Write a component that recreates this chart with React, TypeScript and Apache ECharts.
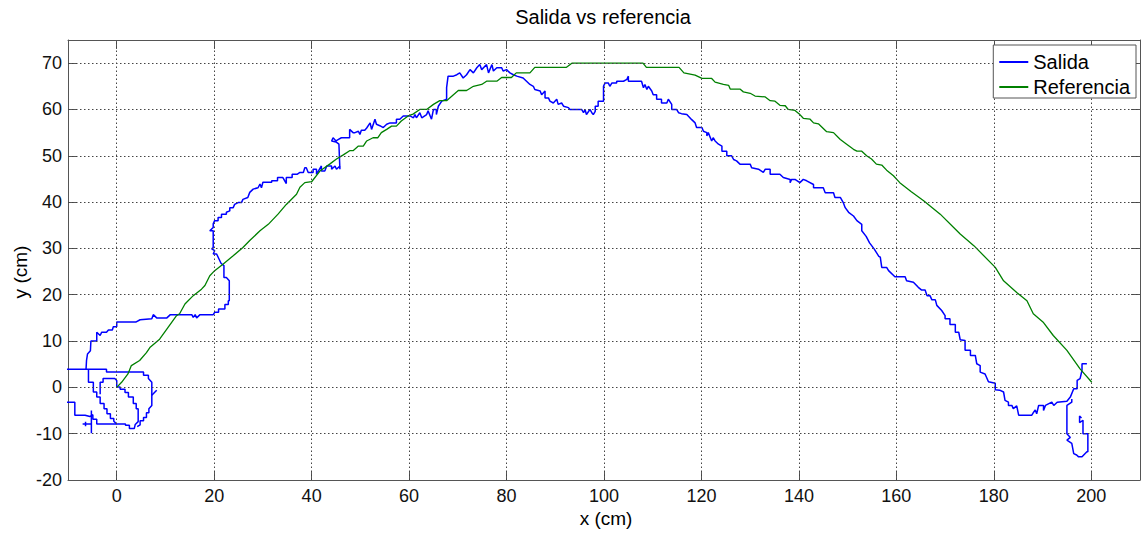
import React, { useEffect, useRef } from 'react';
import * as echarts from 'echarts';

const xTicks = [0, 20, 40, 60, 80, 100, 120, 140, 160, 180, 200];
const yTicks = [-20, -10, 0, 10, 20, 30, 40, 50, 60, 70];
const xGrid = [0, 20, 40, 60, 80, 100, 120, 140, 160, 180, 200];
const yGrid = [-10, 0, 10, 20, 30, 40, 50, 60, 70];

// Salida: trajectory pieces (x, y) in cm
const salidaInicioA = [
  [0, 0.1], [0.7, 0.1], [0.7, -0.4], [1.7, -0.4], [1.7, -1.1], [2.4, -1.1], [2.4, -2.1], [3.4, -2.1],
  [3.4, -3.5], [4.0, -3.5], [4.0, -4.6], [4.4, -4.6], [4.4, -7.4], [3.8, -8.0], [3.6, -8.9], [2.6, -8.9],
  [2.6, -8.2], [1.8, -8.2], [1.8, -7.9], [-4.1, -7.9], [-4.1, -6.9], [-4.9, -6.9], [-4.9, -5.9],
  [-5.5, -6.3], [-6.5, -6.0], [-8.6, -6.0], [-8.6, -3.2], [-12, -3.2],
];
const salidaInicioB = [
  [-12, 3.9], [-2.1, 3.9], [-2.1, 3.3], [5.5, 3.3], [5.5, 2.6], [6.5, 2.6], [6.5, 1.9], [7.2, 1.1],
  [7.2, -3.9], [6.6, -4.6], [6.6, -5.5], [6.1, -5.5], [6.1, -6.5], [5.5, -6.5], [5.5, -7.2], [4.8, -7.2],
  [4.8, -8.1], [4.2, -8.5],
];
const salidaCola = [[7.2, -1.7], [8.2, -0.6]];
const salidaInicioC = [
  [-5.8, 3.9], [-5.8, 1.1], [-4.8, 1.1], [-4.8, -1.0], [-4.1, -1.0], [-4.1, -2.1], [-3.4, -2.1],
  [-3.4, -3.5], [-2.6, -3.5], [-2.6, -4.6], [-2.0, -4.6], [-2.0, -5.7], [-1.3, -5.7], [-1.3, -6.7],
  [-0.6, -6.7], [-0.6, -7.3], [0, -7.9],
];
const salidaInicioD = [[-3.4, -1.5], [-3.4, 1.1], [-2.8, 1.1], [-2.8, 1.9], [-0.4, 1.9], [0, 1.5], [0, 0.1]];
const salidaInicioE = [[-7.0, -7.9], [-5.2, -7.9]];
const salidaInicioF = [[-5.2, -5.0], [-5.2, -9.9]];
const salidaInicioG = [[-6.4, -7.4], [-6.4, -8.4]];

const salidaPrincipal = [
  [-6.3, 3.9], [-6.2, 5.8], [-6.0, 7.2], [-5.4, 7.9], [-5.3, 10.0], [-4.1, 10.0], [-4.1, 11.9], [-3.4, 11.2],
  [-3.1, 11.9], [-2.1, 11.9], [-1.7, 12.4], [-0.9, 12.4], [-0.7, 13.1], [0, 13.1], [0, 14.1], [3.9, 14.1],
  [4.8, 14.6], [7.2, 14.8], [7.5, 15.7], [8.2, 15.0], [10.3, 15.0], [11.0, 15.7], [15.4, 15.7], [15.7, 15.1],
  [16.1, 15.7], [16.4, 15.0], [17.1, 15.7], [19.8, 15.7], [20.1, 16.2], [20.9, 16.2], [20.9, 16.9],
  [22.2, 16.9], [22.2, 17.9], [22.9, 17.9], [22.9, 18.7], [23.1, 18.7], [23.1, 23.0], [22.5, 23.7],
  [22.0, 23.7], [22.0, 26.3], [21.4, 26.8], [20.5, 28.8], [19.8, 28.8], [20.1, 29.5], [19.5, 29.9],
  [19.8, 30.2], [19.8, 33.8], [19.1, 33.8], [19.8, 34.5], [19.8, 35.3], [20.1, 36.0], [20.8, 36.0],
  [20.8, 36.7], [21.5, 36.7], [21.5, 37.4], [22.5, 37.4], [22.5, 37.8], [23.2, 38.1], [23.2, 38.8],
  [23.9, 38.8], [24.2, 39.5], [24.9, 39.9], [25.6, 39.9], [25.9, 40.6], [26.9, 41.0], [27.3, 42.1],
  [28.0, 42.8], [29.0, 43.1], [29.4, 43.9], [29.7, 43.1], [30.0, 44.3], [31.8, 44.3], [31.8, 44.6],
  [33.0, 44.6], [33.0, 45.3], [34.1, 45.3], [34.8, 44.0], [34.8, 45.3], [36.0, 45.3], [36.0, 46.0],
  [37.0, 46.0], [37.6, 46.4], [38.3, 46.4], [38.6, 47.4], [38.9, 47.4], [39.3, 46.4], [40.3, 46.4],
  [40.3, 47.1], [41.0, 47.1], [41.0, 46.0], [42.0, 47.8], [42.0, 46.7], [42.7, 46.7], [43.1, 47.8],
  [44.1, 47.8], [44.1, 47.1], [44.8, 47.8], [45.1, 47.1], [45.8, 47.8], [45.8, 47.1], [45.6, 52.5],
  [45.0, 53.0], [44.1, 53.2], [44.4, 53.9], [45.0, 53.2], [45.6, 53.6], [46.1, 53.9], [47.8, 53.9],
  [47.8, 55.7], [48.5, 55.0], [48.9, 55.0], [49.6, 55.3], [49.9, 54.6], [50.2, 55.5], [50.9, 55.5],
  [51.3, 56.0], [52.0, 57.1], [52.3, 55.7], [53.0, 57.9], [53.3, 56.8], [54.0, 56.5], [54.7, 56.1],
  [55.4, 56.8], [56.1, 57.1], [57.4, 57.1], [57.4, 57.9], [58.1, 57.9], [58.8, 58.6], [60.2, 58.6],
  [60.9, 58.2], [61.2, 58.9], [61.5, 58.2], [62.2, 59.3], [62.6, 58.2], [63.6, 58.9], [63.9, 59.7],
  [64.6, 57.9], [65.0, 60.0], [65.6, 60.0], [65.6, 58.9], [66.0, 60.7], [66.7, 61.8], [67.7, 62.2],
  [67.7, 64.7], [68.0, 67.2], [69.1, 67.2], [69.8, 67.5], [70.4, 67.9], [71.1, 66.8], [71.8, 67.5],
  [72.5, 68.6], [73.2, 67.9], [73.9, 69.0], [74.5, 69.7], [74.9, 68.6], [75.9, 69.7], [76.3, 67.9],
  [77.0, 69.7], [77.3, 68.3], [78.0, 69.0], [79.0, 69.0], [79.3, 68.3], [80.0, 68.6], [80.7, 67.9],
  [81.4, 67.5], [82.1, 67.2], [83.4, 66.8], [84.1, 66.1], [84.8, 65.4], [85.5, 65.0], [85.8, 64.3],
  [86.9, 64.0], [87.2, 63.2], [87.9, 64.0], [87.9, 62.5], [88.6, 62.5], [88.9, 61.8], [89.6, 61.4],
  [90.3, 62.2], [90.6, 61.1], [91.3, 61.4], [91.7, 60.7], [92.7, 60.4], [93.0, 60.0], [95.4, 60.0],
  [95.8, 59.3], [96.1, 60.0], [96.4, 58.9], [97.1, 60.0], [97.5, 59.3], [97.8, 58.9], [98.2, 59.6],
  [98.2, 60.7], [98.8, 60.7], [98.8, 61.8], [99.9, 61.8], [99.9, 65.0], [100.2, 65.7], [100.9, 65.7],
  [101.2, 65.0], [101.6, 65.7], [102.6, 65.7], [102.6, 66.1], [104.0, 66.1], [104.7, 66.5], [105.0, 67.2],
  [105.0, 66.1], [107.7, 66.1], [108.1, 64.7], [108.4, 65.4], [108.8, 64.3], [109.1, 65.0], [109.8, 64.0],
  [110.1, 63.2], [110.8, 63.2], [110.8, 62.2], [111.8, 62.2], [111.8, 61.4], [112.9, 61.4], [113.2, 62.2],
  [113.9, 61.1], [113.9, 60.0], [114.9, 60.0], [115.3, 59.3], [115.9, 59.1], [117.0, 58.9], [118.0, 57.8],
  [118.7, 57.1], [119.0, 56.1], [120.1, 56.1], [120.4, 55.3], [121.1, 55.0], [121.1, 54.3], [121.4, 55.0],
  [122.1, 53.2], [122.4, 53.9], [122.8, 53.2], [123.5, 52.5], [124.2, 52.1], [124.2, 51.0], [125.2, 51.0],
  [125.2, 50.0], [126.2, 50.0], [126.6, 49.2], [127.2, 48.9], [127.9, 48.2], [130.0, 48.2], [130.3, 47.4],
  [131.7, 47.1], [132.7, 46.4], [133.1, 47.1], [134.1, 47.1], [134.1, 46.0], [136.1, 46.0], [136.8, 45.3],
  [138.2, 44.9], [138.2, 44.2], [138.5, 44.9], [139.2, 44.9], [140.2, 44.2], [140.9, 44.9], [141.6, 44.6],
  [143.0, 43.8], [143.0, 43.1], [145.0, 43.1], [145.4, 42.0], [147.1, 42.0], [147.4, 41.0], [148.5, 41.0],
  [149.1, 39.9], [149.5, 38.8], [150.2, 37.8], [151.2, 37.0], [151.9, 36.0], [152.9, 35.2], [152.9, 33.8],
  [153.8, 32.6], [154.5, 31.2], [155.5, 29.8], [156.4, 28.3], [156.7, 28.1], [157.0, 25.9], [158.0, 25.9],
  [158.4, 25.2], [159.7, 23.9], [161.8, 23.9], [162.1, 23.0], [163.5, 22.7], [164.5, 21.6], [165.2, 21.0],
  [165.9, 21.0], [166.3, 19.8], [166.9, 19.8], [167.3, 18.9], [168.0, 18.9], [168.3, 17.7], [169.3, 16.6],
  [170.0, 15.5], [170.0, 14.8], [171.0, 14.8], [171.0, 13.6], [172.1, 13.6], [172.1, 11.9], [172.8, 11.9],
  [173.1, 10.3], [174.1, 10.1], [174.1, 8.0], [175.2, 8.0], [175.2, 6.9], [176.2, 6.9], [176.5, 5.1],
  [177.2, 4.7], [177.2, 3.3], [178.2, 2.9], [178.9, 1.2], [180.3, 0.9], [180.3, -0.5], [181.2, -0.6],
  [182.0, -1.0], [182.3, -2.8], [183.0, -3.2], [183.0, -3.9], [183.7, -3.9], [184.0, -4.6], [184.7, -4.0],
  [185.1, -6.0], [187.8, -6.0], [188.2, -5.3], [188.5, -4.9], [188.8, -5.7], [189.2, -3.9], [190.2, -3.9],
  [190.2, -5.0], [190.6, -3.9], [191.9, -3.2], [192.3, -3.9], [193.0, -3.2], [195.0, -3.0], [195.7, -2.1],
  [196.4, -0.3], [197.1, -0.3], [197.1, 1.5], [197.7, 1.9], [198.1, 3.7], [198.1, 5.1], [199.1, 5.1],
];
const salidaFinal = [
  [196.0, -2.5], [196.0, -3.2], [195.0, -3.9], [195.0, -10.0], [195.7, -10.8], [195.0, -11.4], [196.0, -12.1],
  [196.4, -14.3], [197.0, -14.6], [197.4, -15.0], [198.1, -15.0], [199.1, -13.9], [199.3, -13.9],
  [199.3, -10.0], [198.3, -10.0], [198.3, -7.1], [197.6, -7.6], [197.6, -6.2], [198.0, -6.6],
];

// Referencia
const referencia = [
  [0, 0], [1.0, 1.1], [2.3, 2.9], [3.0, 4.7], [4.7, 5.8], [6.1, 7.5], [6.8, 8.6], [8.8, 10.4], [10.5, 12.9],
  [12.2, 15.4], [12.9, 15.9], [14.0, 18.0], [15.7, 19.8], [17.4, 21.2], [18.1, 22.0], [19.1, 24.1],
  [20.1, 25.2], [21.8, 26.6], [23.9, 28.4], [25.9, 30.2], [27.3, 31.7], [29.4, 33.8], [31.1, 35.2],
  [33.1, 37.4], [34.8, 39.5], [36.9, 41.7], [37.6, 43.2], [38.6, 44.2], [40.0, 44.4], [41.7, 46.7],
  [43.7, 48.2], [45.1, 49.3], [46.5, 50.2], [47.8, 51.1], [48.5, 51.1], [49.6, 52.1], [50.6, 52.1],
  [51.3, 53.2], [52.6, 53.9], [53.6, 53.9], [54.3, 55.0], [55.4, 55.7], [56.4, 56.4], [57.4, 56.4],
  [58.4, 57.5], [59.8, 58.6], [60.8, 59.0], [62.2, 60.0], [63.6, 60.0], [65.0, 61.1], [66.3, 61.9],
  [67.7, 61.9], [69.1, 63.2], [70.1, 64.1], [71.8, 64.1], [73.2, 65.0], [74.9, 65.4], [75.9, 66.1],
  [78.0, 66.1], [79.0, 66.9], [81.0, 66.9], [82.0, 67.9], [84.8, 67.9], [85.8, 69.1], [92.3, 69.1],
  [93.4, 70.0], [108.0, 70.0], [108.7, 69.1], [115.4, 69.1], [116.4, 67.9], [118.7, 67.4], [120.1, 66.7],
  [122.1, 66.7], [122.8, 65.9], [124.5, 65.4], [125.6, 65.2], [125.9, 64.4], [127.9, 64.4], [128.6, 63.8],
  [130.0, 63.5], [131.0, 62.9], [133.1, 62.7], [134.1, 61.9], [135.1, 61.8], [136.1, 60.9], [137.2, 60.8],
  [137.8, 60.0], [139.2, 59.8], [140.2, 58.9], [140.9, 58.1], [142.3, 57.9], [143.0, 57.1], [144.0, 56.9],
  [145.7, 55.2], [147.1, 55.0], [148.5, 53.5], [149.8, 52.5], [151.2, 51.4], [151.9, 51.0], [152.9, 51.0],
  [153.9, 50.0], [154.9, 49.3], [155.9, 48.2], [157.0, 48.0], [158.0, 46.9], [159.4, 45.7], [160.7, 44.2],
  [163.0, 42.3], [165.6, 40.3], [169.0, 37.4], [173.1, 33.1], [175.9, 30.6], [180.3, 25.9], [182.0, 23.0],
  [184.7, 20.5], [186.8, 18.7], [188.1, 15.9], [190.2, 14.0], [192.2, 11.2], [195.0, 8.0], [197.7, 4.0],
  [200.1, 1.1],
];

const salidaTramos = [
  salidaInicioA, salidaInicioB, salidaCola, salidaInicioC, salidaInicioD, salidaInicioE,
  salidaInicioF, salidaInicioG, salidaPrincipal, salidaFinal,
];

export default function App() {
  const ref = useRef<HTMLDivElement>(null);
  useEffect(() => {
    if (!ref.current) return;
    const chart = echarts.init(ref.current, undefined, { renderer: 'svg' });
    const font = '"Liberation Sans", Arial, Helvetica, sans-serif';
    const axisColor = '#555';
    const textColor = '#111';
    const tickFont = 18;
    const gridLineStyle = { color: '#444', width: 1, type: [1.5, 2.5] as any };

    const mkX = (pos: 'bottom' | 'top', labels: boolean) => ({
      type: 'value', min: -10, max: 210, position: pos,
      axisLine: { show: true, onZero: false, lineStyle: { color: axisColor, width: 1 } },
      axisTick: { show: true, inside: true, length: 9, customValues: xTicks, lineStyle: { color: axisColor } },
      axisLabel: { show: labels, customValues: xTicks, margin: 7, color: textColor, fontSize: tickFont, fontFamily: font },
      splitLine: { show: false },
    });
    const mkY = (pos: 'left' | 'right', labels: boolean) => ({
      type: 'value', min: -20, max: 75, position: pos,
      axisLine: { show: true, onZero: false, lineStyle: { color: axisColor, width: 1 } },
      axisTick: { show: true, inside: true, length: 9, customValues: yTicks, lineStyle: { color: axisColor } },
      axisLabel: { show: labels, customValues: yTicks, margin: 6, color: textColor, fontSize: tickFont, fontFamily: font },
      splitLine: { show: false },
    });

    const series: any[] = [
      {
        type: 'line', name: 'grid', data: [], silent: true, z: 1,
        markLine: {
          silent: true, symbol: ['none', 'none'], animation: false,
          label: { show: false }, lineStyle: gridLineStyle, emphasis: { disabled: true },
          data: [...xGrid.map((v) => ({ xAxis: v })), ...yGrid.map((v) => ({ yAxis: v }))],
        },
      },
    ];
    salidaTramos.forEach((t) => {
      series.push({
        name: 'Salida', type: 'line', data: t, symbol: 'none', showSymbol: false, silent: true, z: 3,
        lineStyle: { color: '#0000ff', width: 1.5 }, itemStyle: { color: '#0000ff' },
      });
    });
    series.push({
      name: 'Referencia', type: 'line', data: referencia, symbol: 'none', showSymbol: false, silent: true, z: 4,
      lineStyle: { color: '#008000', width: 1.3 }, itemStyle: { color: '#008000' },
    });

    const txt = (text: string, size: number) => ({
      text, fontSize: size, fontFamily: font, fill: '#000',
      align: 'center', verticalAlign: 'middle', textAlign: 'center', textVerticalAlign: 'middle',
    });

    chart.setOption({
      animation: false,
      backgroundColor: '#fff',
      grid: { left: 68, right: 4, top: 40, bottom: 53, containLabel: false },
      xAxis: [mkX('bottom', true), mkX('top', false)],
      yAxis: [mkY('left', true), mkY('right', false)],
      legend: {
        data: ['Salida', 'Referencia'], orient: 'vertical', right: 8, top: 45,
        itemWidth: 29, itemHeight: 2, itemGap: 5, icon: 'rect',
        padding: [7, 6, 1, 6], borderColor: '#555', borderWidth: 1, backgroundColor: '#fff',
        textStyle: { fontSize: 20, fontFamily: font, color: '#000', lineHeight: 20 },
        z: 10, selectedMode: false,
      },
      graphic: [
        { type: 'text', x: 603, y: 17, style: txt('Salida vs referencia', 20) },
        { type: 'text', x: 606, y: 518, style: txt('x (cm)', 19) },
        { type: 'text', x: 20, y: 272, rotation: Math.PI / 2, style: txt('y (cm)', 19) },
      ],
      series,
    });
    return () => chart.dispose();
  }, []);
  return <div ref={ref} style={{ position: 'fixed', left: 0, top: 0, width: 1144, height: 533 }} />;
}
